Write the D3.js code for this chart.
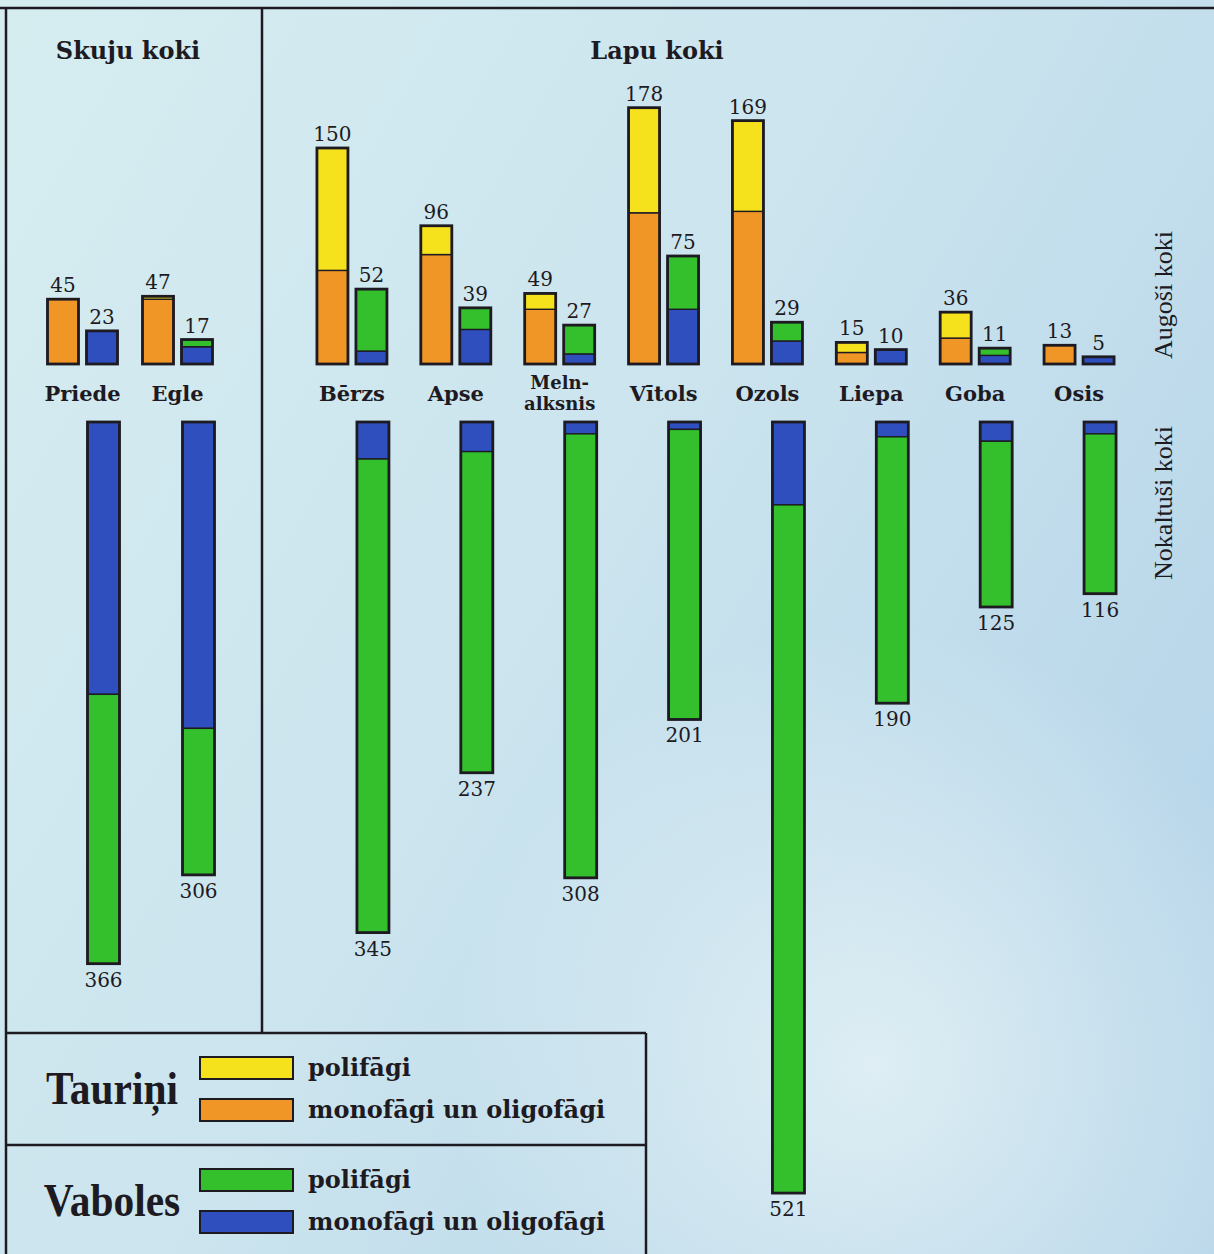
<!DOCTYPE html>
<html>
<head>
<meta charset="utf-8">
<script src="https://cdn.jsdelivr.net/npm/d3@7/dist/d3.min.js"></script>
<style>
body { margin: 0; background: #cfe7ee; }
svg { display: block; }
</style>
</head>
<body>
<div id="chart"></div>
<script>
// trees, split in two panels
const skujuCats = ["Priede", "Egle"];
const lapuCats = ["Bērzs", "Apse", "Melnalksnis", "Vītols", "Ozols", "Liepa", "Goba", "Osis"];
const categories = skujuCats.concat(lapuCats);
const catLabels = [["Priede"], ["Egle"], ["Bērzs"], ["Apse"], ["Meln-", "alksnis"], ["Vītols"], ["Ozols"], ["Liepa"], ["Goba"], ["Osis"]];

// Augoši koki - taurini (polifagi / monofagi un oligofagi)
const taurPoli = [0, 2, 85, 20, 11, 73, 63, 7, 18, 0];
const taurMono = [45, 45, 65, 76, 38, 105, 106, 8, 18, 13];
const taurTotal = [45, 47, 150, 96, 49, 178, 169, 15, 36, 13];

// Augoši koki - vaboles
const vabPoliLive = [0, 5, 43, 15, 20, 37, 13, 0, 5, 0];
const vabMonoLive = [23, 12, 9, 24, 7, 38, 16, 10, 6, 5];
const vabTotalLive = [23, 17, 52, 39, 27, 75, 29, 10, 11, 5];

// Nokaltuši koki - vaboles
const vabMonoDead = [184, 207, 25, 20, 8, 5, 56, 10, 13, 8];
const vabPoliDead = [182, 99, 320, 217, 300, 196, 465, 180, 112, 108];
const vabTotalDead = [366, 306, 345, 237, 308, 201, 521, 190, 125, 116];

const W = 1214, H = 1254;
const col = {
    yellow: "#f5e21c",
    orange: "#f09626",
    green: "#33c02c",
    blue: "#2f4fbf",
    ink: "#1d1a22"
};
const serif = "'DejaVu Serif', 'Liberation Serif', serif";

const svg = d3.select("#chart").append("svg")
    .attr("width", W)
    .attr("height", H);

// background paper
const defs = svg.append("defs");
const lg = defs.append("linearGradient").attr("id", "bg")
    .attr("x1", 0).attr("y1", 0).attr("x2", 1).attr("y2", 0.6);
lg.append("stop").attr("offset", "0%").attr("stop-color", "#d6edf0");
lg.append("stop").attr("offset", "55%").attr("stop-color", "#cbe4ee");
lg.append("stop").attr("offset", "100%").attr("stop-color", "#b9d7ea");
const rg = defs.append("radialGradient").attr("id", "spot")
    .attr("cx", 0.72).attr("cy", 0.85).attr("r", 0.35);
rg.append("stop").attr("offset", "0%").attr("stop-color", "#e6f3f6").attr("stop-opacity", 0.8);
rg.append("stop").attr("offset", "100%").attr("stop-color", "#e6f3f6").attr("stop-opacity", 0);

svg.append("rect").attr("width", W).attr("height", H).attr("fill", "url(#bg)");
svg.append("rect").attr("width", W).attr("height", H).attr("fill", "url(#spot)");

// scales
const xSkuju = d3.scaleBand().domain(skujuCats).range([35, 225]);
const xLapu = d3.scaleBand().domain(lapuCats).range([300, 1131]);
function center(cat) {
    if (skujuCats.includes(cat)) return xSkuju(cat) + xSkuju.bandwidth() / 2;
    return xLapu(cat) + xLapu.bandwidth() / 2;
}
const yUp = d3.scaleLinear().domain([0, 200]).range([364, 364 - 288]);
const yDown = d3.scaleLinear().domain([0, 550]).range([422, 422 + 550 * 1.48]);

const stack = d3.stack().keys(["mono", "poli"]);
const taurRows = categories.map((c, i) => ({ cat: c, mono: taurMono[i], poli: taurPoli[i] }));
const liveRows = categories.map((c, i) => ({ cat: c, mono: vabMonoLive[i], poli: vabPoliLive[i] }));
const deadRows = categories.map((c, i) => ({ cat: c, mono: vabMonoDead[i], poli: vabPoliDead[i] }));

function drawStack(rows, yScale, dx, bw, colors, cls) {
    const g = svg.append("g").attr("class", cls);
    const series = stack(rows);
    series.forEach((s, k) => {
        g.selectAll("rect.s" + k)
            .data(s)
            .join("rect")
            .attr("class", "s" + k)
            .attr("x", d => center(d.data.cat) + dx)
            .attr("y", d => Math.min(yScale(d[0]), yScale(d[1])))
            .attr("width", bw)
            .attr("height", d => Math.abs(yScale(d[1]) - yScale(d[0])))
            .attr("fill", colors[k])
            .attr("stroke", col.ink)
            .attr("stroke-width", d => d[1] > d[0] ? 1.4 : 0);
    });
    // outline of each whole bar
    g.selectAll("rect.outline")
        .data(rows)
        .join("rect")
        .attr("class", "outline")
        .attr("x", d => center(d.cat) + dx)
        .attr("y", d => Math.min(yScale(0), yScale(d.mono + d.poli)))
        .attr("width", bw)
        .attr("height", d => Math.abs(yScale(d.mono + d.poli) - yScale(0)))
        .attr("fill", "none")
        .attr("stroke", col.ink)
        .attr("stroke-width", 2.8);
}

drawStack(taurRows, yUp, -35, 31, [col.orange, col.yellow], "taur");
drawStack(liveRows, yUp, 4, 31, [col.blue, col.green], "vab-live");
drawStack(deadRows, yDown, 5, 32, [col.blue, col.green], "vab-dead");

// value labels
const valStyle = sel => sel
    .attr("font-family", serif)
    .attr("font-size", 20)
    .attr("fill", col.ink)
    .attr("text-anchor", "middle");

svg.append("g").selectAll("text")
    .data(categories)
    .join("text")
    .call(valStyle)
    .attr("x", d => center(d) - 35 + 15.5)
    .attr("y", (d, i) => yUp(taurTotal[i]) - 7)
    .text((d, i) => taurTotal[i]);

svg.append("g").selectAll("text")
    .data(categories)
    .join("text")
    .call(valStyle)
    .attr("x", d => center(d) + 4 + 15.5)
    .attr("y", (d, i) => yUp(vabTotalLive[i]) - 7)
    .text((d, i) => vabTotalLive[i]);

svg.append("g").selectAll("text")
    .data(categories)
    .join("text")
    .call(valStyle)
    .attr("x", d => center(d) + 5 + 16)
    .attr("y", (d, i) => yDown(vabTotalDead[i]) + 23)
    .text((d, i) => vabTotalDead[i]);

// category labels
const catG = svg.append("g");
categories.forEach((c, i) => {
    const lines = catLabels[i];
    const t = catG.append("text")
        .attr("font-family", serif)
        .attr("font-weight", "bold")
        .attr("font-size", lines.length > 1 ? 18 : 21)
        .attr("fill", col.ink)
        .attr("text-anchor", "middle")
        .attr("x", center(c))
        .attr("y", lines.length > 1 ? 389 : 401);
    lines.forEach((l, j) => {
        t.append("tspan").attr("x", center(c)).attr("dy", j == 0 ? 0 : 21).text(l);
    });
});

// panel titles
svg.append("text").attr("x", 128).attr("y", 59)
    .attr("font-family", serif).attr("font-size", 24).attr("font-weight", "bold")
    .attr("fill", col.ink).attr("text-anchor", "middle").text("Skuju koki");
svg.append("text").attr("x", 657).attr("y", 59)
    .attr("font-family", serif).attr("font-size", 24).attr("font-weight", "bold")
    .attr("fill", col.ink).attr("text-anchor", "middle").text("Lapu koki");

// right side labels
svg.append("text")
    .attr("transform", "translate(1172,295) rotate(-90)")
    .attr("font-family", "'Liberation Serif', serif").attr("font-size", 26)
    .attr("fill", col.ink).attr("text-anchor", "middle").text("Augoši koki");
svg.append("text")
    .attr("transform", "translate(1172,503) rotate(-90)")
    .attr("font-family", "'Liberation Serif', serif").attr("font-size", 26)
    .attr("fill", col.ink).attr("text-anchor", "middle").text("Nokaltuši koki");

// frame lines
const lines = svg.append("g").attr("stroke", col.ink).attr("stroke-width", 2.5).attr("fill", "none");
lines.append("line").attr("x1", 0).attr("x2", W).attr("y1", 8).attr("y2", 8);
lines.append("line").attr("x1", 6).attr("x2", 6).attr("y1", 8).attr("y2", H);
lines.append("line").attr("x1", 262).attr("x2", 262).attr("y1", 8).attr("y2", 1033);
lines.append("line").attr("x1", 6).attr("x2", 646).attr("y1", 1033).attr("y2", 1033);
lines.append("line").attr("x1", 646).attr("x2", 646).attr("y1", 1033).attr("y2", H);
lines.append("line").attr("x1", 6).attr("x2", 646).attr("y1", 1145).attr("y2", 1145);

// legend
const legendGroups = ["Tauriņi", "Vaboles"];
const legendKeys = ["polifāgi", "monofāgi un oligofāgi"];
const legendColors = [[col.yellow, col.orange], [col.green, col.blue]];

const leg = svg.append("g");
legendGroups.forEach((name, gi) => {
    const top = 1033 + gi * 112;
    const bx = 112, by = top + 71;
    leg.append("text")
        .attr("x", bx).attr("y", by)
        .attr("font-family", "'Liberation Serif', serif")
        .attr("font-weight", "bold")
        .attr("font-size", 46)
        .attr("fill", col.ink)
        .attr("text-anchor", "middle")
        .attr("transform", `translate(${bx},${by}) scale(0.9,1) translate(${-bx},${-by})`)
        .text(name);
    legendKeys.forEach((k, ki) => {
        const yy = top + 24 + ki * 42;
        leg.append("rect")
            .attr("x", 200).attr("y", yy)
            .attr("width", 93).attr("height", 22)
            .attr("fill", legendColors[gi][ki])
            .attr("stroke", col.ink).attr("stroke-width", 2);
        leg.append("text")
            .attr("x", 308).attr("y", yy + 19)
            .attr("font-family", serif)
            .attr("font-weight", "bold")
            .attr("font-size", 24)
            .attr("fill", col.ink)
            .text(k);
    });
});
</script>
</body>
</html>
